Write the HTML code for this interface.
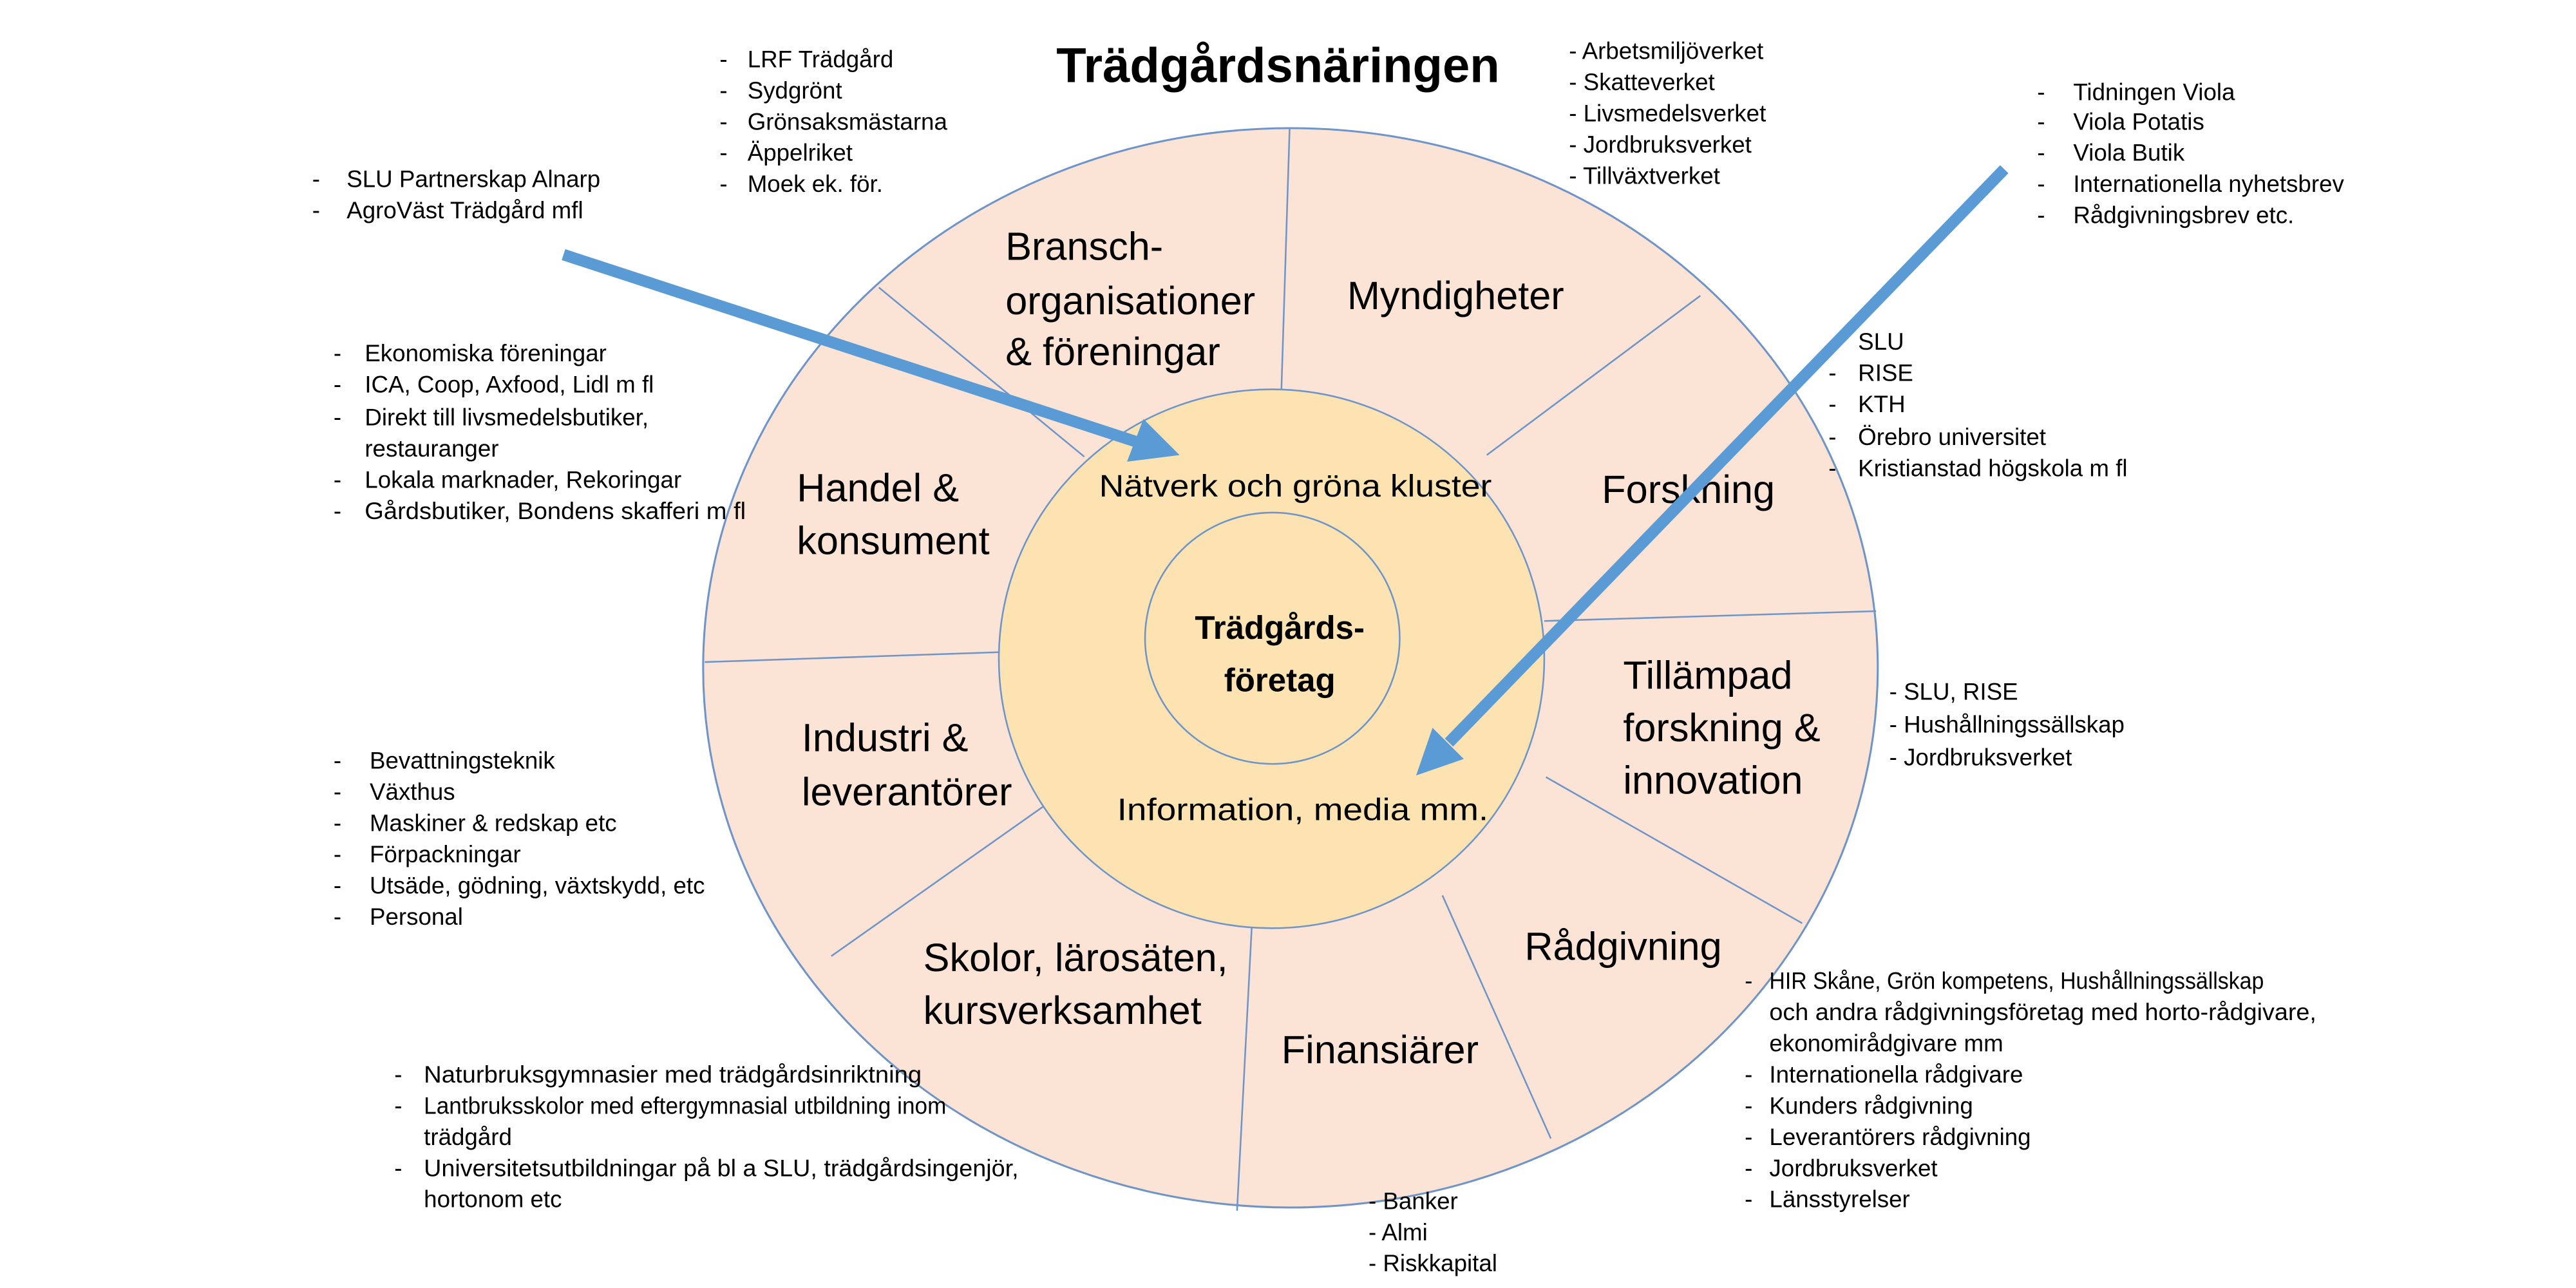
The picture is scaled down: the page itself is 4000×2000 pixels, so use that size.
<!DOCTYPE html>
<html><head><meta charset="utf-8"><style>
html,body{margin:0;padding:0;background:#fff;width:4000px;height:2000px;overflow:hidden}
svg{display:block}
text{font-family:"Liberation Sans",sans-serif;fill:#000;dominant-baseline:central}
.s{font-size:14.4px}
.l{font-size:24px}
.m{font-size:19px}
</style></head><body>
<svg width="4000" height="2000" viewBox="0 0 4000 2000" xmlns="http://www.w3.org/2000/svg">
<g transform="scale(2.551)">
<ellipse cx="785.5" cy="406.5" rx="357.5" ry="328.5" fill="#fbe3d5" stroke="#6f95c8" stroke-width="1.2"/>
<g stroke="#6f95c8" stroke-width="1">
<line x1="785" y1="78" x2="780" y2="237"/>
<line x1="1035" y1="180" x2="905" y2="277"/>
<line x1="1142" y1="372" x2="940" y2="378"/>
<line x1="1097" y1="562" x2="941" y2="473"/>
<line x1="944" y1="693" x2="878" y2="545"/>
<line x1="753" y1="737" x2="762" y2="563"/>
<line x1="506" y1="582" x2="642" y2="486"/>
<line x1="429" y1="403" x2="608" y2="397"/>
<line x1="535" y1="175" x2="660" y2="278"/>
</g>
<ellipse cx="774" cy="401" rx="166" ry="164" fill="#fce3b1" stroke="#6f95c8" stroke-width="1"/>
<ellipse cx="774.5" cy="388.5" rx="77.5" ry="76.5" fill="#fce3b1" stroke="#6f95c8" stroke-width="1"/>

<text x="643" y="40" style="font-size:29.8px;font-weight:bold">Trädgårdsnäringen</text>

<g class="l">
<text x="612" y="150">Bransch-</text>
<text x="612" y="183">organisationer</text>
<text x="612" y="214">&amp; föreningar</text>
<text x="820" y="180">Myndigheter</text>
<text x="975" y="298">Forskning</text>
<text x="485" y="297">Handel &amp;</text>
<text x="485" y="329">konsument</text>
<text x="988" y="411">Tillämpad</text>
<text x="988" y="443">forskning &amp;</text>
<text x="988" y="475">innovation</text>
<text x="488" y="449">Industri &amp;</text>
<text x="488" y="482">leverantörer</text>
<text x="928" y="576">Rådgivning</text>
<text x="562" y="583">Skolor,  lärosäten,</text>
<text x="562" y="615">kursverksamhet</text>
<text x="780" y="639">Finansiärer</text>
</g>
<text class="m" x="669" y="296" textLength="239" lengthAdjust="spacingAndGlyphs">Nätverk och gröna kluster</text>
<text class="m" x="680" y="493" textLength="226" lengthAdjust="spacingAndGlyphs">Information, media mm.</text>
<text x="779" y="382" text-anchor="middle" style="font-size:20px;font-weight:bold">Trädgårds-</text>
<text x="779" y="414" text-anchor="middle" style="font-size:20px;font-weight:bold">företag</text>

<g class="s">
<text x="438" y="36">-</text><text x="455" y="36">LRF Trädgård</text>
<text x="438" y="55">-</text><text x="455" y="55">Sydgrönt</text>
<text x="438" y="74">-</text><text x="455" y="74">Grönsaksmästarna</text>
<text x="438" y="93">-</text><text x="455" y="93">Äppelriket</text>
<text x="438" y="112">-</text><text x="455" y="112">Moek ek. för.</text>

<text x="955" y="31">- Arbetsmiljöverket</text>
<text x="955" y="50">- Skatteverket</text>
<text x="955" y="69">- Livsmedelsverket</text>
<text x="955" y="88">- Jordbruksverket</text>
<text x="955" y="107">- Tillväxtverket</text>

<text x="1240" y="56">-</text><text x="1262" y="56">Tidningen Viola</text>
<text x="1240" y="74">-</text><text x="1262" y="74">Viola Potatis</text>
<text x="1240" y="93">-</text><text x="1262" y="93">Viola Butik</text>
<text x="1240" y="112">-</text><text x="1262" y="112">Internationella nyhetsbrev</text>
<text x="1240" y="131">-</text><text x="1262" y="131">Rådgivningsbrev etc.</text>

<text x="190" y="109">-</text><text x="211" y="109">SLU Partnerskap Alnarp</text>
<text x="190" y="128">-</text><text x="211" y="128">AgroVäst Trädgård mfl</text>

<text x="203" y="215">-</text><text x="222" y="215">Ekonomiska föreningar</text>
<text x="203" y="234">-</text><text x="222" y="234">ICA, Coop, Axfood, Lidl m fl</text>
<text x="203" y="254">-</text><text x="222" y="254">Direkt till livsmedelsbutiker,</text>
<text x="222" y="273">restauranger</text>
<text x="203" y="292">-</text><text x="222" y="292">Lokala marknader, Rekoringar</text>
<text x="203" y="311">-</text><text x="222" y="311" textLength="232" lengthAdjust="spacingAndGlyphs">Gårdsbutiker, Bondens skafferi m fl</text>

<text x="1113" y="208">-</text><text x="1131" y="208">SLU</text>
<text x="1113" y="227">-</text><text x="1131" y="227">RISE</text>
<text x="1113" y="246">-</text><text x="1131" y="246">KTH</text>
<text x="1113" y="266">-</text><text x="1131" y="266">Örebro universitet</text>
<text x="1113" y="285">-</text><text x="1131" y="285">Kristianstad högskola m fl</text>

<text x="1150" y="421">- SLU, RISE</text>
<text x="1150" y="441">- Hushållningssällskap</text>
<text x="1150" y="461">- Jordbruksverket</text>

<text x="203" y="463">-</text><text x="225" y="463">Bevattningsteknik</text>
<text x="203" y="482">-</text><text x="225" y="482">Växthus</text>
<text x="203" y="501">-</text><text x="225" y="501">Maskiner &amp; redskap etc</text>
<text x="203" y="520">-</text><text x="225" y="520">Förpackningar</text>
<text x="203" y="539">-</text><text x="225" y="539">Utsäde, gödning, växtskydd, etc</text>
<text x="203" y="558">-</text><text x="225" y="558">Personal</text>

<text x="1062" y="597">-</text><text x="1077" y="597" textLength="301" lengthAdjust="spacingAndGlyphs">HIR Skåne, Grön kompetens, Hushållningssällskap</text>
<text x="1077" y="616" textLength="333" lengthAdjust="spacingAndGlyphs">och andra rådgivningsföretag med horto-rådgivare,</text>
<text x="1077" y="635">ekonomirådgivare mm</text>
<text x="1062" y="654">-</text><text x="1077" y="654">Internationella rådgivare</text>
<text x="1062" y="673">-</text><text x="1077" y="673">Kunders rådgivning</text>
<text x="1062" y="692">-</text><text x="1077" y="692">Leverantörers rådgivning</text>
<text x="1062" y="711">-</text><text x="1077" y="711">Jordbruksverket</text>
<text x="1062" y="730">-</text><text x="1077" y="730">Länsstyrelser</text>

<text x="240" y="654">-</text><text x="258" y="654" textLength="303" lengthAdjust="spacingAndGlyphs">Naturbruksgymnasier med trädgårdsinriktning</text>
<text x="240" y="673">-</text><text x="258" y="673" textLength="318" lengthAdjust="spacingAndGlyphs">Lantbruksskolor med eftergymnasial utbildning inom</text>
<text x="258" y="692">trädgård</text>
<text x="240" y="711">-</text><text x="258" y="711" textLength="362" lengthAdjust="spacingAndGlyphs">Universitetsutbildningar på bl a SLU, trädgårdsingenjör,</text>
<text x="258" y="730">hortonom etc</text>

<text x="833" y="731">- Banker</text>
<text x="833" y="750">- Almi</text>
<text x="833" y="769">- Riskkapital</text>
</g>

<g stroke="#5b9bd5" stroke-width="7" fill="#5b9bd5">
<line x1="343" y1="155" x2="692" y2="269"/>
<polygon stroke="none" points="718,277 686,281 696,255"/>
<line x1="1220" y1="103" x2="882" y2="452"/>
<polygon stroke="none" points="862,472 891,462 872,443"/>
</g>
</g>
</svg>
</body></html>
